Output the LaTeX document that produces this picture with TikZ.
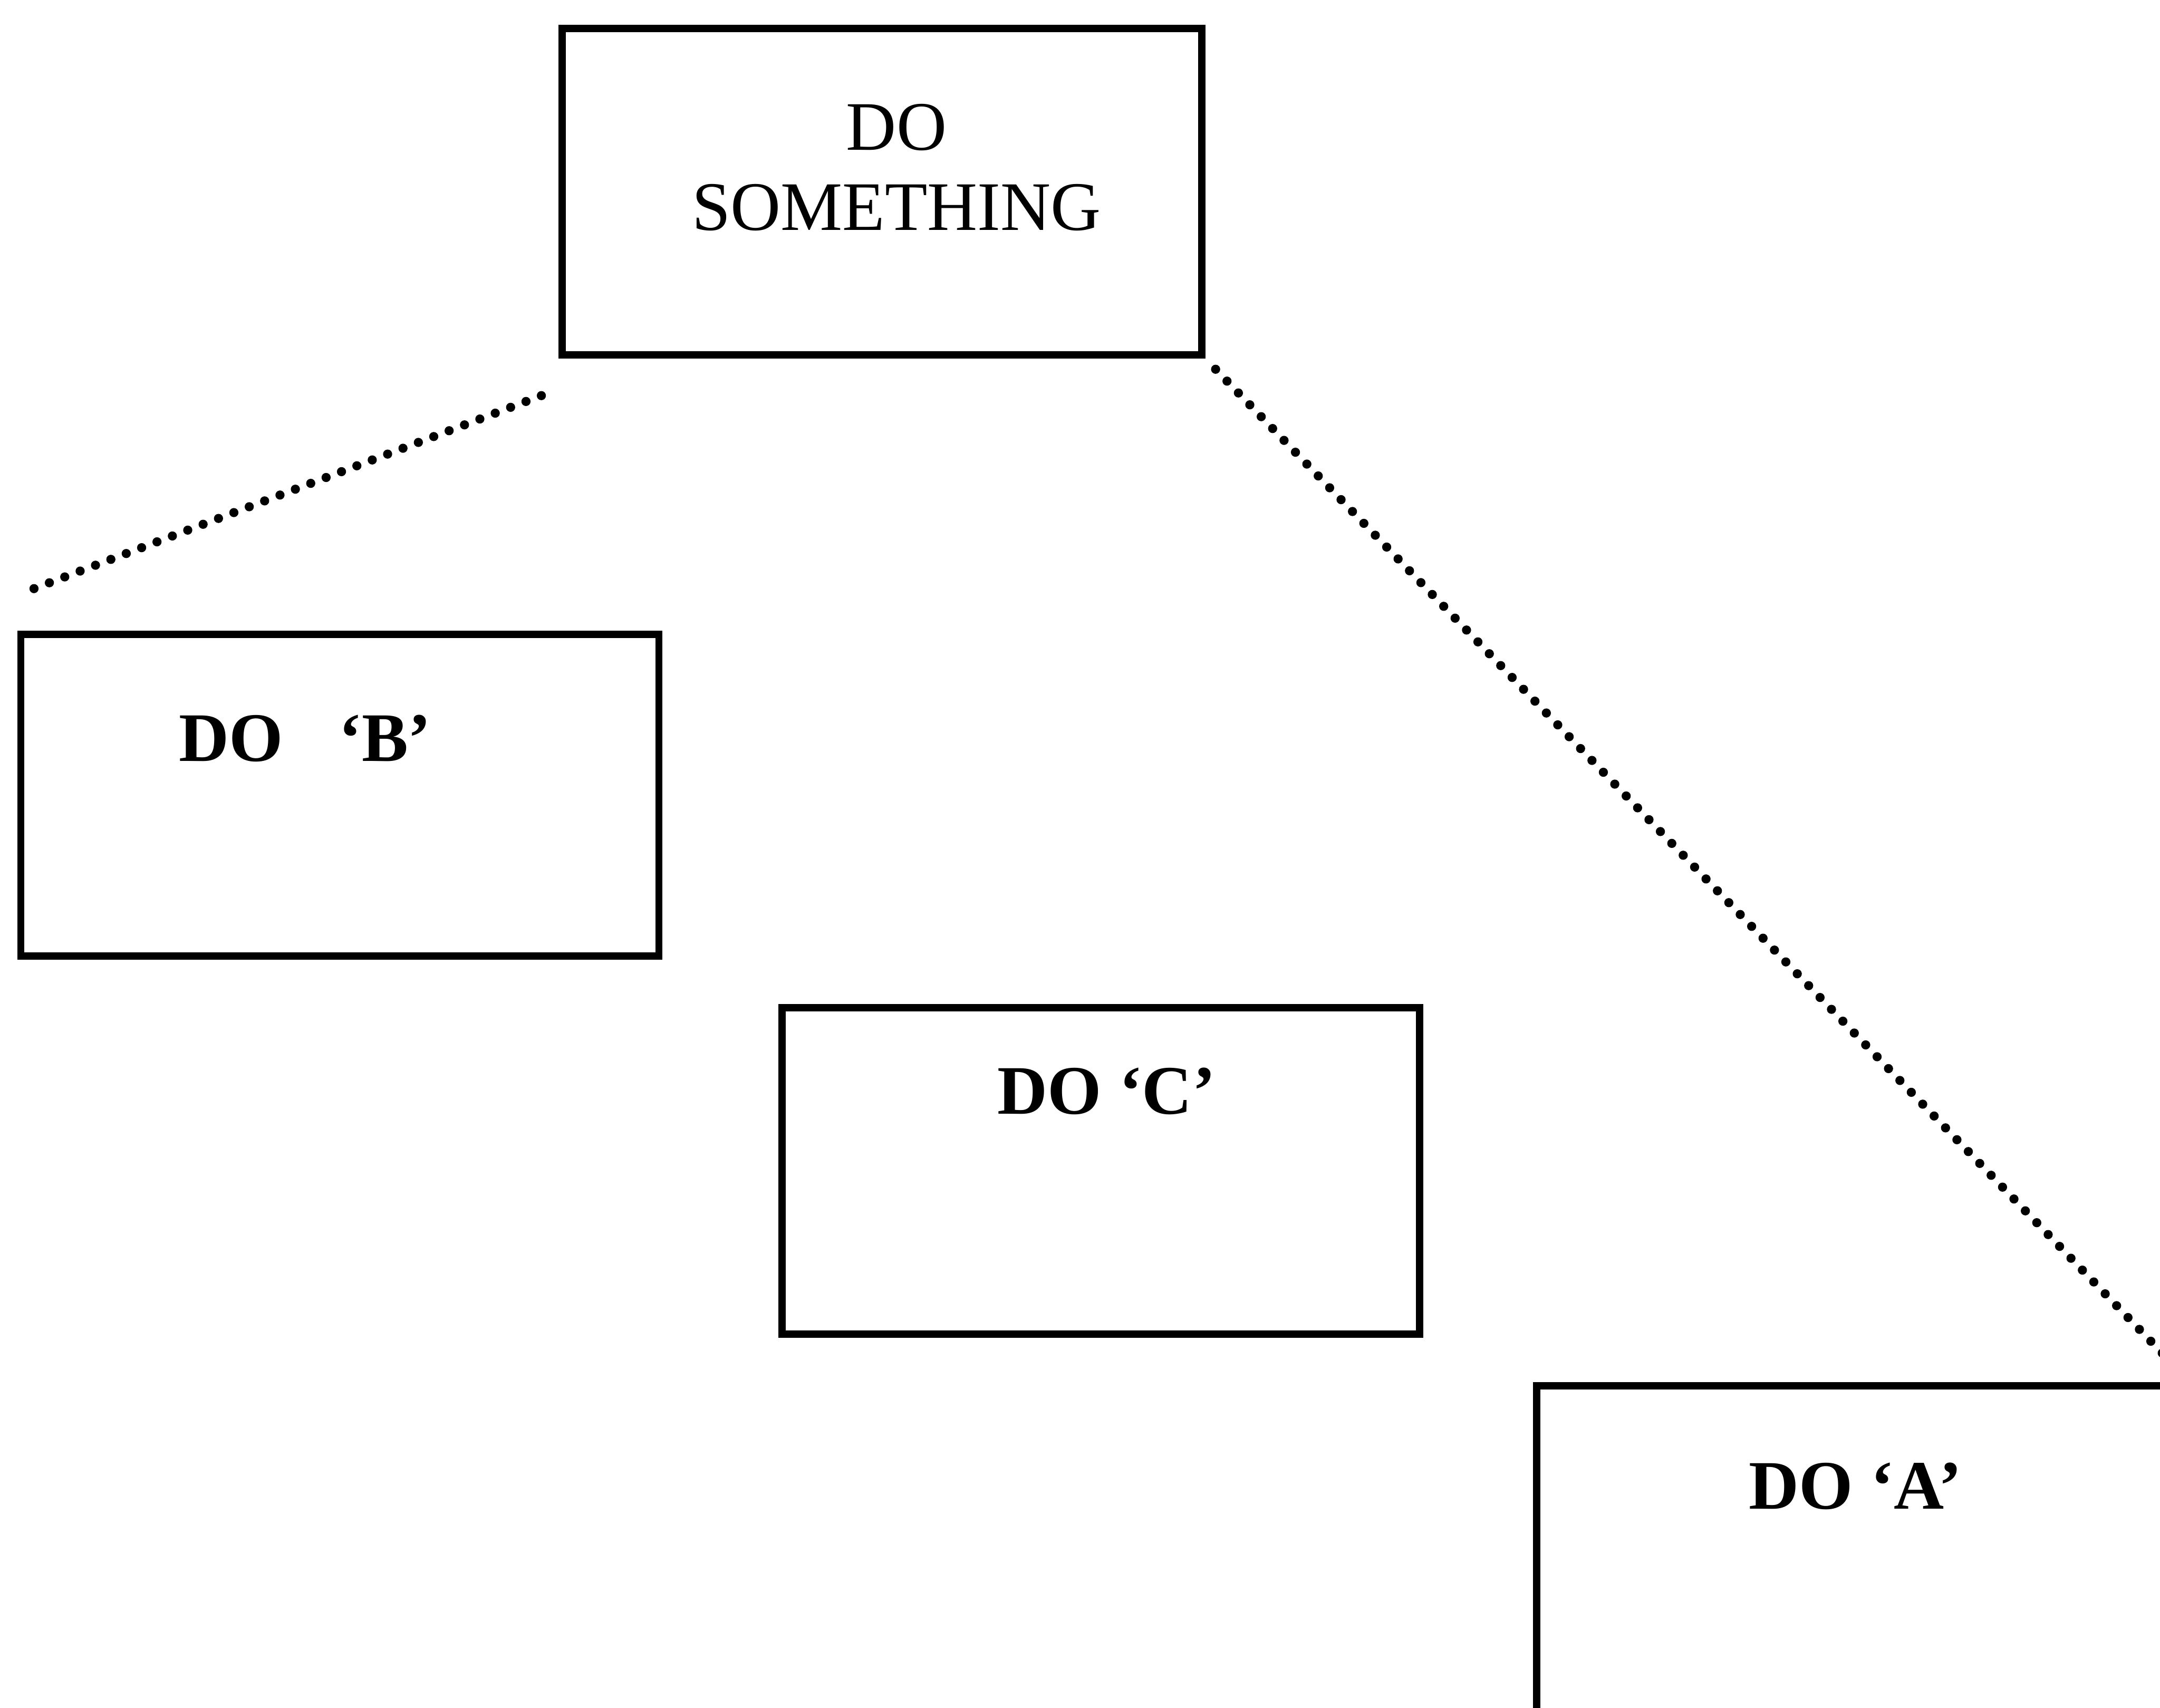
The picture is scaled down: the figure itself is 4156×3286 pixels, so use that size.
\documentclass[tikz,border=0pt]{standalone}
\usepackage{fontspec}
\setmainfont{Liberation Serif}

\begin{document}
\begin{tikzpicture}[x=0.01cm, y=-0.01cm, font=\fontsize{38}{44}\selectfont]
	\useasboundingbox (0,0) rectangle (4156,3286);
	\clip (0,0) rectangle (4156,3286);
      \tikzstyle{task} = [draw, line width=4pt, inner sep=0pt, minimum width=12.3cm, minimum height=6.28cm]
      \tikzstyle{word} = [font=\fontsize{38}{44}\selectfont\bfseries, anchor=base]
      \tikzstyle{link} = [line width=5pt, line cap=round, dash pattern=on 0pt off 9pt]
      % the four boxes
      \node (top) at (1697,369) [task] {};
      \node (B) at (654,1530) [task, minimum width=12.27cm, minimum height=6.19cm] {};
      \node (C) at (2118,2253) [task, minimum width=12.26cm] {};
      \node (A) at (3582,2982) [task, minimum width=12.5cm, minimum height=6.3cm] {};
      % texts in the upper part of each box
      \node (topText) at (1725,322) [align=center] {DO\\SOMETHING};
      \node (BText) at (587,1465) [word] {DO\hspace{0.8em}‘B’};
      \node (CText) at (2129,2143) [word] {DO ‘C’};
      \node (AText) at (3570,2903) [word] {DO ‘A’};
      % dotted links from the top box
      \draw[link] ([shift={(-33,71)}]top.south west) -- ([shift={(12,-73)}]B.north west);
      \draw[link, shorten <=8pt] (top.south east) -- (A.north east);
    \end{tikzpicture}
\end{document}
